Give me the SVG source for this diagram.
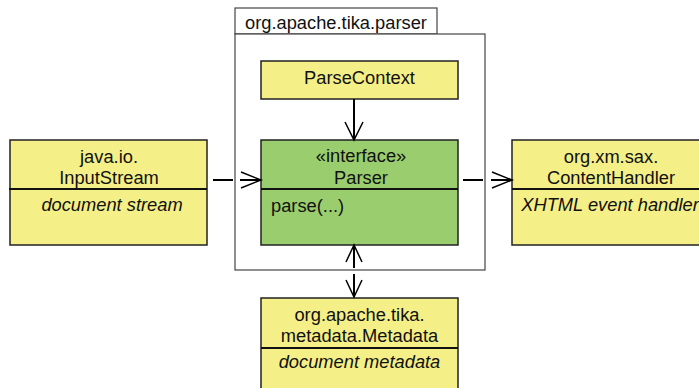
<svg xmlns="http://www.w3.org/2000/svg" width="699" height="388" viewBox="0 0 699 388">
<style>
text{font-family:"Liberation Sans",Arial,sans-serif;font-size:18.3px;fill:#111}
.c{text-anchor:middle}
.i{font-style:italic}
.y{fill:#f5ef88;stroke:#222;stroke-width:1.5}
.g{fill:#9acd6e;stroke:#222;stroke-width:1.5}
.pk{fill:#fff;stroke:#444;stroke-width:1.2}
.dv{stroke:#111;stroke-width:2}
.ln{stroke:#000;stroke-width:2;fill:none}
.ah{stroke:#000;stroke-width:1.5;fill:none}
</style>
<rect width="699" height="388" fill="#fff"/>
<g id="package">
<rect class="pk" x="235" y="8" width="202" height="26"/>
<rect class="pk" x="235" y="34" width="250" height="236"/>
<text x="245" y="29">org.apache.tika.parser</text>
</g>
<g id="inputstream">
<rect class="y" x="10" y="140" width="197" height="105"/>
<line class="dv" x1="9" y1="189" x2="207" y2="189"/>
<text class="c" x="109" y="163">java.io.</text>
<text class="c" x="109" y="184">InputStream</text>
<text class="c i" x="112" y="211">document stream</text>
</g>
<g id="parsecontext">
<rect class="y" x="261" y="61" width="197" height="38"/>
<text class="c" x="359.5" y="84">ParseContext</text>
</g>
<g id="parser">
<rect class="g" x="261" y="140" width="197" height="105"/>
<line class="dv" x1="261" y1="189" x2="458" y2="189"/>
<text class="c" x="361" y="162">«interface»</text>
<text class="c" x="361" y="184">Parser</text>
<text x="271" y="212">parse(...)</text>
</g>
<g id="contenthandler">
<rect class="y" x="512" y="140" width="198" height="105"/>
<line class="dv" x1="512" y1="189" x2="699" y2="189"/>
<text class="c" x="611" y="163">org.xm.sax.</text>
<text class="c" x="611" y="184">ContentHandler</text>
<text class="c i" x="610" y="211">XHTML event handler</text>
</g>
<g id="metadata">
<rect class="y" x="261" y="298" width="197" height="100"/>
<line class="dv" x1="261" y1="348" x2="458" y2="348"/>
<text class="c" x="359.5" y="321">org.apache.tika.</text>
<text class="c" x="359.5" y="342">metadata.Metadata</text>
<text class="c i" x="359.5" y="368">document metadata</text>
</g>
<g id="connectors">
<line class="ln" x1="354" y1="99" x2="354" y2="139"/>
<polyline class="ah" points="345,122 354,140 363,122"/>
<line class="ln" x1="213" y1="180" x2="233" y2="180"/>
<line class="ln" x1="240" y1="180" x2="260" y2="180"/>
<polyline class="ah" points="241,172 261,180 241,188"/>
<line class="ln" x1="463" y1="180" x2="483" y2="180"/>
<line class="ln" x1="491" y1="180" x2="511" y2="180"/>
<polyline class="ah" points="492,172 512,180 492,188"/>
<line class="ln" x1="354" y1="246" x2="354" y2="268"/>
<polyline class="ah" points="346,262 354,245 362,262"/>
<line class="ln" x1="354" y1="274" x2="354" y2="296"/>
<polyline class="ah" points="346,280 354,297 362,280"/>
</g>
</svg>
